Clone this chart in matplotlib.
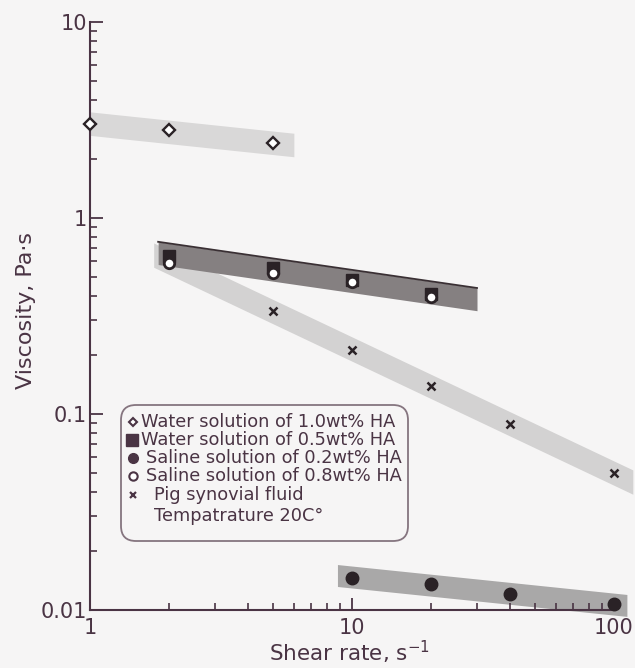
import numpy as np
import matplotlib
matplotlib.use("Agg")
import matplotlib.pyplot as plt
from matplotlib.patches import FancyBboxPatch

plt.rcParams['font.family'] = ['DejaVu Sans']
plt.rcParams['mathtext.fontset'] = 'dejavusans'

# ---- data ----
x_ha10 = [1, 2, 5]
y_ha10 = [3.0, 2.8, 2.4]

x_ha05 = [2, 5, 10, 20]
y_ha05 = [0.64, 0.555, 0.48, 0.41]

x_sal08 = [2, 5, 10, 20]
y_sal08 = [0.59, 0.525, 0.47, 0.395]

x_sal02 = [10, 20, 40, 100]
y_sal02 = [0.0146, 0.0136, 0.0121, 0.0107]

x_pig = [5, 10, 20, 40, 100]
y_pig = [0.335, 0.212, 0.139, 0.089, 0.050]

labels = ["Water solution of 1.0wt% HA",
          "Water solution of 0.5wt% HA",
          "Saline solution of 0.2wt% HA",
          "Saline solution of 0.8wt% HA",
          "Pig synovial fluid",
          "Tempatrature 20C°"]

x_ticks = [1, 10, 100]
x_ticklabels = ['1', '10', '100']
y_ticks = [0.01, 0.1, 1, 10]
y_ticklabels = ['0.01', '0.1', '1', '10']

# band extents (x range) for the fitted trend bands
band_ha10 = (1.0, 6.0)
band_ha05 = (1.82, 30.0)
band_pig = (1.75, 118.0)
band_sal02 = (8.8, 112.0)

ink = '#4a3444'
mk = '#2a2226'
bg = '#f6f5f5'

W, H = 635, 668
fig = plt.figure(figsize=(W / 100, H / 100), dpi=100, facecolor=bg)
ax = fig.add_axes([90 / W, 58 / H, 524 / W, 588 / H], facecolor=bg)
ax.set_xscale('log')
ax.set_yscale('log')
ax.set_xlim(1, 100)
ax.set_ylim(0.01, 10)


def band(xs, ys, rng, half, color, z, edge=None):
    lx, ly = np.log10(xs), np.log10(ys)
    k, b = np.polyfit(lx, ly, 1)
    xx = np.logspace(np.log10(rng[0]), np.log10(rng[1]), 50)
    c = k * np.log10(xx) + b
    ax.fill_between(xx, 10 ** (c - half), 10 ** (c + half), color=color,
                    lw=0, zorder=1, clip_on=False)
    if edge is not None:
        ax.plot(xx, 10 ** (c + half), color=edge, lw=1.3, zorder=z + 0.1,
                clip_on=False)


band(x_ha10, y_ha10, band_ha10, 0.060, '#d9d8d8', 1)
band(x_pig, y_pig, band_pig, 0.062, '#d3d2d2', 1)
band(x_ha05, y_ha05, band_ha05, 0.058, '#858081', 2, edge='#3a3034')
band(x_sal02, y_sal02, band_sal02, 0.056, '#a9a8a8', 1)

ax.plot(x_ha10, y_ha10, ls='none', marker='D', ms=6, mfc='white',
        mec=mk, mew=1.7, zorder=5, clip_on=False)
ax.plot(x_ha05, y_ha05, ls='none', marker='s', ms=8, mfc=mk,
        mec=mk, zorder=5, clip_on=False)
ax.plot(x_sal08, y_sal08, ls='none', marker='o', ms=7.5, mfc='white',
        mec=mk, mew=2.0, zorder=6, clip_on=False)
ax.plot(x_sal02, y_sal02, ls='none', marker='o', ms=9, mfc=mk,
        mec=mk, zorder=5, clip_on=False)
ax.plot(x_pig, y_pig, ls='none', marker='x', ms=5.5, mec=mk,
        mew=1.8, zorder=5, clip_on=False)

# axes styling
for s in ['top', 'right']:
    ax.spines[s].set_visible(False)
for s in ['left', 'bottom']:
    ax.spines[s].set_color(ink)
    ax.spines[s].set_linewidth(1.5)
ax.tick_params(which='major', direction='in', length=9, width=1.3,
               color=ink, labelcolor=ink, labelsize=15)
ax.tick_params(which='minor', direction='in', length=5, width=1.2,
               color=ink)
ax.set_xticks(x_ticks)
ax.set_xticklabels(x_ticklabels)
ax.set_yticks(y_ticks)
ax.set_yticklabels(y_ticklabels)
ax.tick_params(axis='x', which='major', pad=6)
ax.tick_params(axis='y', which='major', pad=2)

ax.set_xlabel('Shear rate, s$^{-1}$', fontsize=15.5, color=ink)
ax.xaxis.set_label_coords(0.496, -0.049)
ax.set_ylabel('Viscosity, Pa·s', fontsize=16, color=ink)
ax.yaxis.label.set_va('center')
ax.yaxis.set_label_coords(-0.122, 0.51)

# legend box (drawn in figure pixel space, converted to inches)
tr = fig.dpi_scale_trans


def P(x, y):
    return x / 100, (H - y) / 100


bx0, by0 = P(121, 541)
bx1, by1 = P(408, 405)
box = FancyBboxPatch((bx0, by0), bx1 - bx0, by1 - by0,
                     boxstyle='round,pad=0,rounding_size=0.15',
                     transform=tr, facecolor=bg, edgecolor='#85757f',
                     lw=1.3, zorder=7, clip_on=False)
ax.add_artist(box)

row_y = [422, 440, 458, 476, 495, 516]
text_x = [141, 141, 146, 146, 154, 154]
keys = [
    dict(marker='D', ms=4.5, mfc='white', mec=ink, mew=1.5, mx=133),
    dict(marker='s', ms=8, mfc=ink, mec=ink, mew=1, mx=132),
    dict(marker='o', ms=7, mfc=ink, mec=ink, mew=1, mx=133),
    dict(marker='o', ms=6, mfc='white', mec=ink, mew=1.5, mx=133),
    dict(marker='x', ms=4.5, mfc=ink, mec=ink, mew=1.6, mx=133),
    None,
]
for lab, ry, tx, kd in zip(labels, row_y, text_x, keys):
    if kd is not None:
        kd = dict(kd)
        mx = kd.pop('mx')
        ax.plot([P(mx, ry)[0]], [P(mx, ry)[1]], ls='none', transform=tr,
                clip_on=False, zorder=8, **kd)
    ax.text(*P(tx, ry), lab, transform=tr, fontsize=12.8, color=ink,
            ha='left', va='center', zorder=8)

fig.savefig('out.png', dpi=100, facecolor=bg)
